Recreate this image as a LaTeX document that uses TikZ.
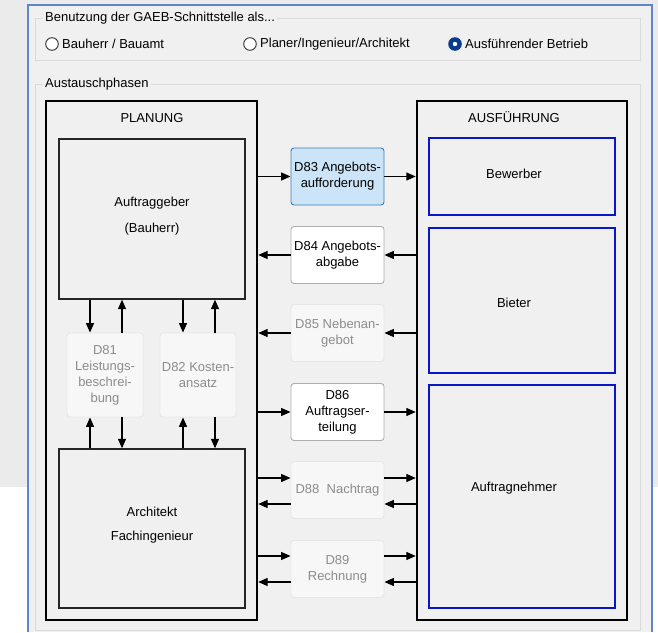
\documentclass[tikz,border=0pt]{standalone}
\usepackage{fontspec}
\setmainfont{Liberation Sans}
\usetikzlibrary{arrows.meta,calc}
\definecolor{outerbg}{HTML}{EBEBEB}
\definecolor{panelbg}{HTML}{F0F0F0}
\definecolor{panelblue}{HTML}{5F87C8}
\definecolor{grpline}{HTML}{DADADA}
\definecolor{ausblue}{HTML}{0A14C8}
\definecolor{selfill}{HTML}{CCE4F7}
\definecolor{selborder}{HTML}{3C7FB1}
\definecolor{btnborder}{HTML}{ADADAD}
\definecolor{disfill}{HTML}{F7F7F7}
\definecolor{disborder}{HTML}{E6E6E6}
\definecolor{distext}{HTML}{8C8C8C}
\definecolor{radioblue}{HTML}{0A3C8C}
\definecolor{radiogray}{HTML}{333333}
\begin{document}
\begin{tikzpicture}[x=1pt,y=-1pt,
  font=\fontsize{13}{16}\selectfont,
  outerbox/.style={draw=black, line width=2.4pt, minimum width=#1, inner sep=0},
  innerbox/.style={draw=black!85, line width=1.4pt, inner sep=0},
  bluebox/.style={draw=ausblue, line width=2pt, inner sep=0},
  phase/.style={rounded corners=3pt, line width=0.9pt, align=center, inner sep=0,
     minimum width=93pt, minimum height=57pt},
  enabledbox/.style={phase, draw=btnborder, fill=white, text=black},
  selectedbox/.style={phase, draw=selborder, fill=selfill, text=black},
  disabledbox/.style={phase, draw=disborder, fill=disfill, text=distext},
  docbox/.style={rounded corners=3pt, line width=0.9pt, align=center, inner sep=0,
     draw=disborder, fill=disfill, text=distext, minimum width=76pt, minimum height=84pt},
  arr/.style={-{Triangle[length=9.5pt,width=8pt]}, line width=1.3pt},
  grp/.style={draw=grpline, line width=1pt},
  grplabel/.style={anchor=west, fill=panelbg, inner xsep=2pt, inner ysep=1pt},
  txt/.style={inner sep=0}
]
\useasboundingbox (0,0) rectangle (658,632);
% background
\fill[outerbg] (0,0) rectangle (658,487);
\fill[white] (0,487) rectangle (658,632);
\fill[panelbg] (28,5) rectangle (652,632);
\draw[panelblue, line width=1.5pt] (28,632) -- (28,5) -- (652,5) -- (652,632);

% group box 1
\draw[grp] (35,18) rectangle (640,60);
\node[grplabel] (g1) at (43,18) {Benutzung der GAEB-Schnittstelle als...};
\draw[radiogray, line width=0.9pt, fill=white] (52,44) circle (6.3pt);
\node[txt, anchor=west] (r1) at (62,44) {Bauherr / Bauamt};
\draw[radiogray, line width=0.9pt, fill=white] (250,44) circle (6.3pt);
\node[txt, anchor=west] (r2) at (260,44) {Planer/Ingenieur/Architekt};
\fill[radioblue] (455,44) circle (6.8pt);
\fill[white] (455,44) circle (2.2pt);
\node[txt, anchor=west] (r3) at (465,44) {Ausführender Betrieb};

% group box 2
\draw[grp] (35,84) rectangle (640,630);
\node[grplabel] (g2) at (43,84) {Austauschphasen};

% PLANUNG
\node[outerbox=211pt, minimum height=519pt] (planung) at (151.5,360.5) {};
\node[txt] (planlbl) at (152,118) {PLANUNG};
\node[innerbox, minimum width=186pt, minimum height=160pt] (auftraggeber) at (152,219) {};
\node[txt, align=center] (aglbl) at (152,216) {Auftraggeber\\[10pt](Bauherr)};
\node[innerbox, minimum width=186pt, minimum height=159pt] (architekt) at (152,528.5) {};
\node[txt, align=center] (arlbl) at (152,525) {Architekt\\[8pt]Fachingenieur};
\node[docbox] (d81) at (105,375) {D81\\Leistungs-\\beschrei-\\bung};
\node[docbox] (d82) at (198,375) {D82 Kosten-\\ansatz};

% AUSFUEHRUNG
\node[outerbox=210pt, minimum height=519pt] (ausf) at (522,360.5) {};
\node[txt] (auslbl) at (514,117) {AUSFÜHRUNG};
\node[bluebox, minimum width=186pt, minimum height=77pt] (bewerber) at (522,176.5) {};
\node[txt] (bewlbl) at (514,174) {Bewerber};
\node[bluebox, minimum width=186pt, minimum height=145pt] (bieter) at (522,300.5) {};
\node[txt] (bielbl) at (514,303) {Bieter};
\node[bluebox, minimum width=186pt, minimum height=223pt] (an) at (522,496.5) {};
\node[txt] (anlbl) at (514,488) {Auftragnehmer};

% middle phases
\node[selectedbox] (d83) at (337.5,176.5) {D83 Angebots-\\aufforderung};
\node[enabledbox] (d84) at (337.5,255) {D84 Angebots-\\abgabe};
\node[disabledbox] (d85) at (337.5,333) {D85 Nebenan-\\gebot};
\node[enabledbox] (d86) at (337.5,412) {D86\\Auftragser-\\teilung};
\node[disabledbox] (d88) at (337.5,490) {D88\ \ Nachtrag};
\node[disabledbox] (d89) at (337.5,569) {D89\\Rechnung};

% horizontal arrows
\draw[arr] (planung.east |- d83.west) -- (d83.west);
\draw[arr] (d83.east) -- (ausf.west |- d83.east);
\draw[arr] (ausf.west |- d84.east) -- (d84.east);
\draw[arr] (d84.west) -- (planung.east |- d84.west);
\draw[arr] (ausf.west |- d85.east) -- (d85.east);
\draw[arr] (d85.west) -- (planung.east |- d85.west);
\draw[arr] (planung.east |- d86.west) -- (d86.west);
\draw[arr] (d86.east) -- (ausf.west |- d86.east);

\coordinate (d88ul) at ($(d88.west)+(0,-12)$);
\coordinate (d88ur) at ($(d88.east)+(0,-12)$);
\coordinate (d88dl) at ($(d88.west)+(0,14)$);
\coordinate (d88dr) at ($(d88.east)+(0,14)$);
\draw[arr] (planung.east |- d88ul) -- (d88ul);
\draw[arr] (d88ur) -- (ausf.west |- d88ur);
\draw[arr] (ausf.west |- d88dr) -- (d88dr);
\draw[arr] (d88dl) -- (planung.east |- d88dl);

\coordinate (d89ul) at ($(d89.west)+(0,-13)$);
\coordinate (d89ur) at ($(d89.east)+(0,-13)$);
\coordinate (d89dl) at ($(d89.west)+(0,13)$);
\coordinate (d89dr) at ($(d89.east)+(0,13)$);
\draw[arr] (planung.east |- d89ul) -- (d89ul);
\draw[arr] (d89ur) -- (ausf.west |- d89ur);
\draw[arr] (ausf.west |- d89dr) -- (d89dr);
\draw[arr] (d89dl) -- (planung.east |- d89dl);

% vertical arrows
\foreach \d in {d81,d82}{
  \coordinate (\d tl) at ($(\d.north)+(-15,0)$);
  \coordinate (\d tr) at ($(\d.north)+(17,0)$);
  \coordinate (\d bl) at ($(\d.south)+(-15,0)$);
  \coordinate (\d br) at ($(\d.south)+(17,0)$);
  \draw[arr] (auftraggeber.south -| \d tl) -- (\d tl);
  \draw[arr] (\d tr) -- (auftraggeber.south -| \d tr);
  \draw[arr] (architekt.north -| \d bl) -- (\d bl);
  \draw[arr] (\d br) -- (architekt.north -| \d br);
}
\end{tikzpicture}
\end{document}
